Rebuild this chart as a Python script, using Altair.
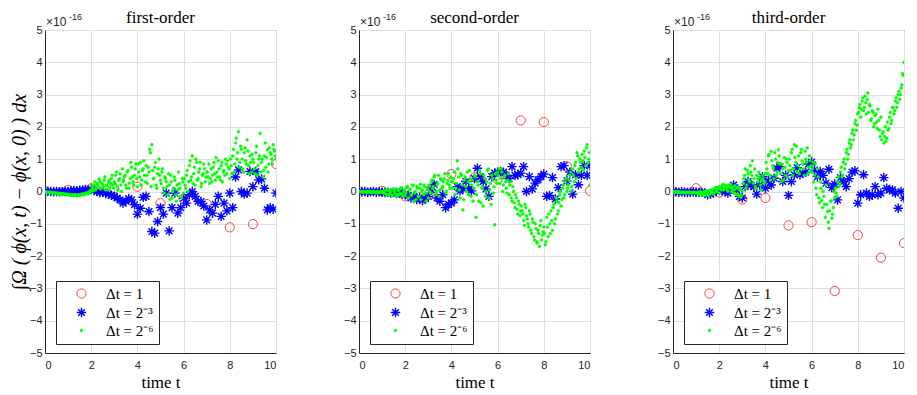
import altair as alt
import pandas as pd

SERIES = ["Δt = 1", "Δt = 2⁻³", "Δt = 2⁻⁶"]
TITLES = ["first-order", "second-order", "third-order"]
ASTERISK = "M0,-1L0,1M-1,0L1,0M-0.7,-0.7L0.7,0.7M-0.7,0.7L0.7,-0.7"

# values in units of 1e-16; red: t = 0..10 step 1, blue: step 1/8,
# green: step 1/16 (greenN) plus the in-between samples at odd multiples of 1/32 (greenNb)
red1 = [0.0, 0.05, 0.1, 0.1, 0.15, -0.36, -0.23, -0.39, -1.11, -1.01, 0.85]
red2 = [0.0, 0.02, -0.15, -0.1, 0.54, 0.44, 0.38, 2.2, 2.15, 0.78, 0.02]
red3 = [0.0, 0.1, -0.03, -0.25, -0.2, -1.05, -0.95, -3.08, -1.35, -2.05, -1.6]

blue1 = [0, 0.01, 0.0, -0.01, 0.0, -0.01, 0.0, 0.01,
         0.0, 0.02, 0.03, 0.02, 0.04, 0.05, 0.06, 0.05,
         0.07, 0.03, 0.0, -0.03, -0.02, -0.06, -0.08, -0.12,
         -0.15, -0.2, -0.26, -0.36, -0.3, -0.22, -0.26, -0.41,
         -0.7, -0.52, -0.18, -0.15, -0.62, -1.24, -1.29, -0.93,
         -0.5, -0.7, -0.05, -1.22, -0.5, -0.05, -0.67, -0.5,
         -0.21, -0.36, -0.1, 0.0, -0.15, -0.31, -0.31, -0.45,
         -0.88, -0.57, -0.67, -0.4, -0.15, -0.77, -0.36, -0.6,
         -0.05, -0.5, 0.45, 0.67, 0.0, -0.08, -0.05, 0.62,
         0.15, 0.62, 0.36, 0.39, 0.1, -0.57, -0.5, -0.55,
         -0.05]
blue2 = [0,
         -0.01, 0.0, -0.02, -0.01, 0.0, -0.02, -0.01, -0.02,
         -0.03, -0.02, -0.05, -0.03, -0.06, -0.04, -0.08, -0.1,
         -0.12, -0.2, -0.15, -0.25, -0.18, -0.28, -0.22, -0.15,
         0.05, 0.22, -0.2, -0.3, -0.1, -0.5, -0.4, -0.36,
         -0.26, 0.15, 0.02, 0.1, 0.31, 0.1, 0.02, 0.4,
         0.72, 0.46, 0.31, 0.08, -0.15, 0.46, 0.57, 0.6,
         0.62, 0.6, 0.5, 0.4, 0.77, 0.5, 0.52, 0.57,
         0.77, 0.0, 0.46, 0.08, 0.26, 0.36, 0.46, 0.54,
         -0.15, -0.12, 0.43, -0.23, 0.12, 0.77, 0.8, 0.33,
         0.6, -0.08, 0.52, 0.21, 0.5, 0.8, 0.5, 0.8]
blue3 = [0,
         -0.01, -0.02, -0.01, -0.02, -0.03, -0.02, -0.01, -0.02,
         -0.03, -0.02, -0.05, -0.1, -0.08, -0.03, 0.0, 0.05,
         0.03, 0.0, -0.05, 0.1, 0.2, 0.05, -0.15, -0.2,
         0.15, 0.31, 0.2, 0.15, -0.08, 0.2, 0.46, 0.1,
         0.33, 0.2, 0.41, 0.72, 0.77, 0.31, 0.5, -0.12,
         0.31, 0.52, 0.74, 0.52, 0.57, 0.6, 0.85, 0.91,
         0.67, 0.46, 0.62, 0.5, 0.26, 0.69, 0.12, 0.23,
         -0.26, 0.43, 0.3, 0.15, 0.4, 0.6, 0.64, -0.36,
         -0.1, 0.52, -0.05, -0.15, -0.1, 0.15, -0.1, -0.05,
         0.43, 0.1, 0.05, 0.05, -0.05, -0.52, 0.0, -0.2]

green1 = [0, -0.02, -0.03, -0.02, -0.04, -0.03, -0.05, -0.04, -0.06, -0.05, -0.07, -0.06, -0.08, -0.07, -0.09, -0.08, -0.1,
          -0.09, -0.11, -0.1, -0.12, -0.1, -0.13, -0.11, -0.12, -0.1, -0.08, -0.1, -0.06, -0.07, -0.03, -0.05, 0.0,
          0.1, 0.2, 0.05, 0.25, 0.15, 0.3, 0.1, 0.22, 0.35, 0.05, 0.18, 0.28, 0.12, 0.4, 0.2, 0.3,
          0.5, 0.15, 0.35, 0.55, 0.0, 0.3, 0.45, 0.2, 0.6, 0.1, 0.4, 0.75, 0.3, 0.5, 0.85, 0.15,
          0.6, 0.9, 0.35, 0.7, 0.5, 0.8, 0.25, 0.6, 1.2, 1.45, 0.4, 0.75, 0.2, 0.55, 1.0, 0.35,
          0.6, 0.1, 0.45, 0.3, -0.1, 0.2, 0.5, -0.2, 0.1, 0.35, -0.3, 0.05, 0.25, -0.15, 0.4, -0.05,
          0.2, 0.5, 0.0, 0.8, 0.35, 1.1, 0.55, 0.2, 0.9, 0.4, 0.7, 0.15, 0.5, 0.85, 0.3, 0.6,
          0.45, 0.25, 0.7, 0.5, 0.9, 0.35, 0.6, 0.95, 0.45, 0.8, 0.3, 0.65, 1.0, 0.55, 0.75, 0.4,
          0.8, 1.1, 0.6, 1.5, 1.0, 1.85, 0.9, 1.3, 0.7, 1.2, 0.95, 1.6, 0.8, 1.1, 0.6, 1.0,
          0.7, 1.2, 0.5, 1.0, 1.8, 0.9, 0.45, 1.1, 0.75, 1.3, 0.85, 1.2, 1.0, 1.45, 1.25, 1.0]
green1b = [-0.01, -0.02, -0.03, -0.03, -0.04, -0.04, -0.05, -0.05, -0.06, -0.06, -0.07, -0.07, -0.08, -0.08, -0.09, -0.09,
           -0.1, -0.12, -0.11, -0.13, -0.12, -0.11, -0.13, -0.1, -0.12, -0.09, -0.08, -0.07, -0.05, -0.04, -0.02, 0.03,
           0.15, 0.02, 0.3, 0.1, 0.2, 0.38, 0.08, 0.25, 0.15, 0.45, 0.2, 0.05, 0.35, 0.25, 0.5, 0.1,
           0.25, 0.6, 0.05, 0.4, 0.2, 0.7, 0.35, 0.5, 0.1, 0.65, 0.25, 0.9, 0.45, 0.2, 0.7, 0.4,
           0.85, 0.45, 0.2, 0.65, 0.95, 0.3, 0.5, 0.75, 1.3, 0.15, 0.65, 0.4, 0.9, 0.1, 0.7, 0.5,
           0.25, 0.7, -0.05, 0.4, 0.15, 0.55, -0.25, 0.3, 0.0, 0.45, -0.1, 0.2, 0.6, 0.1, -0.2, 0.3,
           0.4, 0.1, 0.65, 0.3, 0.95, 0.45, 0.25, 0.75, 1.0, 0.35, 0.6, 0.9, 0.25, 0.55, 0.7, 0.45,
           0.6, 0.85, 0.4, 0.3, 0.75, 0.55, 1.05, 0.45, 0.7, 0.35, 0.9, 0.6, 0.5, 0.85, 0.95, 0.7,
           1.0, 0.55, 1.3, 0.85, 1.65, 1.2, 0.75, 1.4, 1.0, 0.6, 1.35, 0.85, 1.25, 0.55, 0.9, 1.15,
           0.9, 0.55, 1.4, 0.8, 1.1, 0.6, 1.0, 0.65, 1.5, 1.05, 0.6, 1.35, 1.15, 0.85, 1.3, 1.1]
green2 = [0, -0.01, 0.0, -0.02, -0.01, 0.0, -0.02, 0.0, -0.01, -0.03, 0.0, -0.02, -0.04, -0.01, -0.03, 0.0, -0.02,
          -0.05, 0.02, -0.08, 0.05, -0.1, 0.0, -0.12, 0.08, -0.05, -0.15, 0.05, -0.1, 0.1, -0.08, 0.0, -0.12,
          0.12, -0.2, 0.05, -0.1, 0.2, -0.3, 0.0, 0.15, -0.15, 0.1, -0.25, 0.05, 0.2, -0.05, 0.12, -0.2,
          0.0, 0.3, 0.1, 0.45, -0.1, 0.2, 0.5, 0.05, 0.35, 0.15, 0.4, -0.05, 0.25, 0.55, 0.1, 0.3,
          0.3, 0.6, 0.1, 0.95, 0.45, -0.2, 0.5, -0.57, 0.35, 0.15, 0.6, -0.1, 0.4, 0.2, -0.3, 0.5,
          -0.8, 0.3, -0.3, 0.55, 0.1, -0.45, 0.4, 0.0, 0.65, -0.2, 0.25, 0.5, -0.05, -1.03, 0.35, 0.6,
          0.7, 0.4, 0.6, 0.2, 0.5, 0.1, 0.35, -0.1, 0.3, -0.3, 0.0, -0.5, -0.2, -0.7, -0.4, -0.6,
          -0.6, -0.9, -0.4, -0.75, -1.0, -0.6, -1.2, -0.85, -1.4, -1.0, -1.55, -1.2, -1.7, -0.9, -1.35, -1.1,
          -1.65, -0.8, -1.4, -1.0, -0.6, -1.2, -0.4, -0.85, -0.3, -0.6, -0.1, -0.45, 0.1, -0.2, 0.3, 0.0,
          0.2, 0.5, 0.0, 0.7, 0.3, 0.9, 1.2, 0.6, 1.0, 0.75, 0.95, 1.25, 0.8, 1.45, 1.0, 0.2]
green2b = [0.0, -0.01, -0.02, 0.0, -0.01, -0.03, 0.0, -0.02, -0.01, 0.0, -0.03, -0.02, 0.0, -0.04, -0.02, -0.01,
           0.0, -0.06, 0.04, -0.1, 0.02, -0.07, 0.06, -0.12, 0.0, 0.08, -0.1, 0.03, -0.06, 0.12, -0.14, 0.05,
           -0.05, 0.15, -0.2, 0.08, -0.12, 0.18, -0.05, -0.25, 0.1, -0.15, 0.22, 0.0, -0.1, 0.15, -0.3, 0.08,
           0.2, -0.05, 0.35, 0.15, 0.5, 0.0, 0.25, -0.15, 0.4, 0.1, 0.3, 0.55, 0.0, 0.35, 0.2, 0.45,
           0.1, 0.4, -0.1, 0.25, 0.7, 0.05, 0.55, 0.2, -0.25, 0.45, 0.0, 0.3, 0.65, -0.15, 0.35, 0.1,
           0.45, -0.1, 0.2, 0.65, -0.35, 0.15, 0.5, -0.15, 0.3, 0.7, 0.05, -0.4, 0.4, 0.15, 0.55, 0.25,
           0.5, 0.25, 0.7, 0.0, 0.45, 0.3, -0.05, 0.55, 0.2, -0.2, 0.15, -0.35, -0.1, -0.55, -0.3, -0.75,
           -0.45, -0.7, -1.05, -0.5, -0.85, -1.1, -0.7, -1.3, -0.95, -1.5, -1.15, -1.6, -1.3, -1.05, -1.5, -1.25,
           -1.3, -1.55, -1.1, -0.7, -1.3, -0.9, -0.5, -1.0, -0.2, -0.7, -0.35, 0.0, -0.25, 0.2, -0.1, 0.4,
           0.1, 0.35, 0.6, 0.15, 0.5, 0.8, 0.4, 1.1, 0.7, 0.9, 1.15, 0.65, 1.05, 1.35, 0.9, 1.2]
green3 = [0, -0.02, 0.0, -0.03, -0.01, -0.02, -0.04, -0.02, -0.03, -0.05, -0.02, -0.04, -0.03, -0.05, -0.02, -0.04, -0.03,
          -0.05, -0.08, 0.0, -0.1, -0.03, -0.12, 0.02, -0.06, -0.1, 0.05, -0.02, -0.08, 0.08, 0.0, 0.12, -0.05,
          0.1, 0.18, 0.05, 0.2, 0.12, 0.0, 0.15, 0.22, 0.08, -0.05, 0.18, 0.1, -0.1, 0.05, -0.18, 0.0,
          0.4, 0.7, 0.2, 0.55, 0.3, 0.6, 0.95, 0.4, 0.15, 0.5, 0.3, 0.45, 0.05, 0.4, 0.25, 0.55,
          0.7, 1.1, 0.5, 1.24, 0.8, 0.4, 1.0, 0.6, 1.29, 0.85, 0.3, 0.7, 1.05, 0.5, 0.9, 0.65,
          0.8, 1.2, 0.5, 1.45, 0.9, 0.6, 1.1, 0.7, 1.3, 0.85, 0.5, 1.0, 1.35, 0.75, 0.95, 0.6,
          0.9, 0.5, 0.1, 0.7, -0.2, 0.3, -0.28, 0.0, -0.4, 0.2, -0.62, -1.14, -0.3, -0.83, -0.5, -0.2,
          -0.05, 0.3, 0.15, 0.6, 0.45, 0.9, 0.7, 1.2, 1.0, 1.5, 1.35, 1.8, 1.6, 2.1, 1.9, 2.4,
          2.6, 2.3, 2.8, 2.5, 2.95, 2.4, 3.05, 2.7, 2.2, 2.5, 2.0, 2.35, 2.15, 2.55, 1.9, 2.3,
          1.8, 1.5, 2.0, 1.65, 1.9, 2.3, 2.1, 2.6, 2.4, 2.8, 2.6, 3.0, 2.85, 3.2, 3.65, 4.0]
green3b = [-0.01, -0.02, -0.02, -0.01, -0.03, -0.03, -0.02, -0.04, -0.03, -0.03, -0.04, -0.02, -0.04, -0.05, -0.03, -0.04,
           -0.06, -0.02, -0.09, -0.05, -0.11, 0.0, -0.08, -0.04, -0.12, 0.03, -0.06, 0.06, -0.04, 0.1, 0.02, 0.08,
           0.15, 0.05, 0.22, 0.1, 0.18, 0.05, 0.2, 0.12, 0.0, 0.15, 0.05, -0.08, 0.12, -0.15, 0.1, -0.12,
           0.25, 0.5, 0.1, 0.65, 0.35, 0.8, 0.5, 0.25, 0.7, 0.1, 0.4, 0.6, 0.2, 0.35, 0.5, 0.3,
           0.9, 0.55, 1.15, 0.35, 0.95, 0.7, 1.2, 0.5, 0.9, 1.1, 0.55, 0.85, 0.35, 0.75, 1.0, 0.45,
           1.0, 0.65, 1.3, 0.7, 1.05, 1.4, 0.8, 0.55, 1.2, 0.95, 0.7, 1.25, 0.9, 0.55, 1.1, 0.8,
           0.7, 0.3, 0.85, -0.1, 0.45, -0.35, 0.1, -0.5, -0.15, -0.8, -0.4, -0.95, -0.6, -0.3, -0.7, 0.0,
           0.1, -0.15, 0.45, 0.25, 0.75, 0.5, 1.0, 0.85, 1.3, 1.15, 1.6, 1.45, 1.9, 1.75, 2.2, 2.05,
           2.45, 2.7, 2.55, 2.9, 2.6, 2.75, 2.85, 2.45, 2.65, 2.25, 2.45, 2.1, 2.4, 1.95, 2.2, 1.7,
           1.6, 1.85, 1.7, 1.55, 2.15, 1.95, 2.45, 2.2, 2.6, 2.5, 2.9, 2.75, 3.1, 3.0, 3.3, 3.6]

X_TICKS = [0, 2, 4, 6, 8, 10]
Y_TICKS = [-5, -4, -3, -2, -1, 0, 1, 2, 3, 4, 5]
Y_TITLE = "∫Ω ( ϕ(x, t)  −  ϕ(x, 0) )  dx"
SERIF = "Liberation Serif"


def make_df(red, blue, green, green_b):
    rows = []
    for i, v in enumerate(red):
        rows.append((SERIES[0], float(i), v))
    for i, v in enumerate(blue):
        rows.append((SERIES[1], i / 8, v))
    for i, v in enumerate(green):
        rows.append((SERIES[2], i / 16, v))
    for i, v in enumerate(green_b):
        rows.append((SERIES[2], (2 * i + 1) / 32, v))
    return pd.DataFrame(rows, columns=["series", "t", "v"])


def panel(title, red, blue, green, green_b, first):
    df = make_df(red, blue, green, green_b)
    if first:
        yaxis = alt.Axis(values=Y_TICKS, title=Y_TITLE, titleFontStyle="italic",
                         titleFont=SERIF, titleFontWeight="normal",
                         titleFontSize=20, titlePadding=0, labelPadding=3)
    else:
        yaxis = alt.Axis(values=Y_TICKS, title=None, labelPadding=3)
    pts = alt.Chart(df).mark_point(filled=False, opacity=1, clip=True).encode(
        x=alt.X("t:Q", scale=alt.Scale(domain=[0, 10], nice=False, zero=False),
                axis=alt.Axis(values=X_TICKS, title="time t", titleFontSize=17,
                              titleFont=SERIF, titleFontWeight="normal",
                              titlePadding=4, labelPadding=6)),
        y=alt.Y("v:Q", scale=alt.Scale(domain=[-5, 5], nice=False), axis=yaxis),
        color=alt.Color("series:N",
                        scale=alt.Scale(domain=SERIES, range=["#ff2a2a", "#0000ff", "#00ff00"]),
                        legend=alt.Legend(orient="none", legendX=11, legendY=251, title=None,
                                          fillColor="white", strokeColor="#262626",
                                          padding=5, symbolOffset=13, labelOffset=17,
                                          labelFont=SERIF, labelFontSize=15,
                                          labelFontWeight="normal",
                                          labelColor="black", rowPadding=2,
                                          symbolStrokeWidth=1.2)),
        fill=alt.Fill("series:N",
                      scale=alt.Scale(domain=SERIES, range=["transparent", "transparent", "#00ff00"])),
        shape=alt.Shape("series:N", scale=alt.Scale(domain=SERIES, range=["circle", ASTERISK, "circle"])),
        size=alt.Size("series:N", scale=alt.Scale(type="ordinal", domain=SERIES, range=[85, 90, 8])),
        strokeWidth=alt.StrokeWidth("series:N",
                                    scale=alt.Scale(type="ordinal", domain=SERIES, range=[0.9, 1.4, 0.5]),
                                    legend=None),
    )
    one = pd.DataFrame({"a": [0]})
    head = alt.Chart(one).mark_text(align="center", baseline="alphabetic", font=SERIF,
                                    fontSize=17, color="black").encode(
        x=alt.value(115.5), y=alt.value(-7.5), text=alt.value(title))
    t1 = alt.Chart(one).mark_text(align="left", baseline="middle", font="Liberation Sans",
                                  fontSize=12, color="#262626").encode(
        x=alt.value(1), y=alt.value(-8), text=alt.value("×10"))
    t2 = alt.Chart(one).mark_text(align="left", baseline="middle", font="Liberation Sans",
                                  fontSize=9, color="#262626").encode(
        x=alt.value(24), y=alt.value(-13), text=alt.value("-16"))
    return alt.layer(pts, head, t1, t2).properties(width=231, height=323)


chart = alt.hconcat(
    panel(TITLES[0], red1, blue1, green1, green1b, True),
    panel(TITLES[1], red2, blue2, green2, green2b, False),
    panel(TITLES[2], red3, blue3, green3, green3b, False),
    spacing=83, bounds="flush",
).resolve_scale(
    color="independent", fill="independent", shape="independent",
    size="independent", strokeWidth="independent"
).resolve_legend(
    color="independent", fill="independent", shape="independent", size="independent"
).configure_view(
    stroke="#262626", strokeWidth=1
).configure_axis(
    gridColor="#dfdfdf", gridWidth=1, domainColor="#262626", domainWidth=1,
    labelColor="#262626", labelFont="Liberation Sans", labelFontSize=11,
    titleFont=SERIF, titleFontWeight="normal", titleColor="black",
    ticks=False
).properties(
    padding={"left": 0, "top": 0, "right": 0, "bottom": 0},
    background="white"
)

chart.save("out.html", embed_options={"renderer": "svg", "actions": False})
